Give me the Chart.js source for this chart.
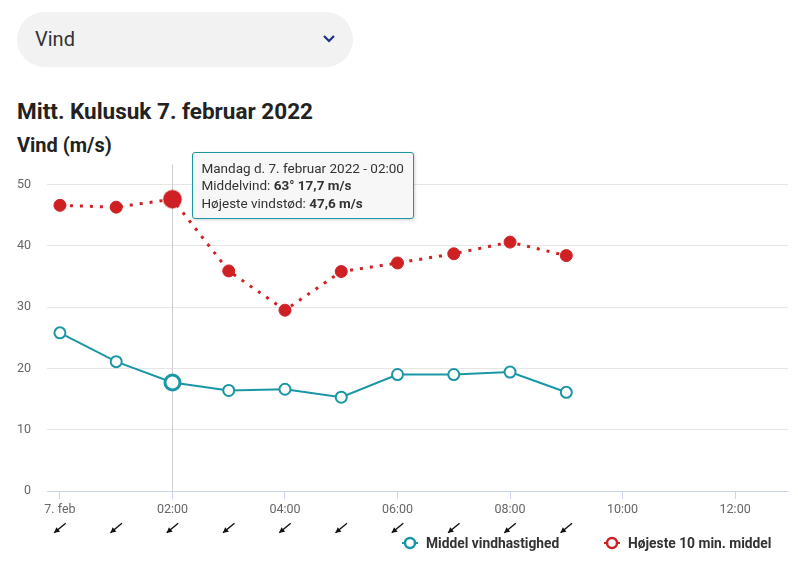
<!DOCTYPE html>
<html>
<head>
<meta charset="utf-8">
<script src="https://cdn.jsdelivr.net/npm/chart.js@4"></script>
<style>
  body { margin: 0; width: 798px; height: 578px; overflow: hidden; background: #fff; font-family: Roboto, sans-serif; color: #222; position: relative; }
  #select { position: absolute; left: 17px; top: 12px; width: 336px; height: 55px; border-radius: 28px; background: #f2f2f2; }
  #select span { position: absolute; left: 18px; top: 15px; font-size: 20px; color: #333; }
  #select svg { position: absolute; left: 305px; top: 22px; }
  h1 { position: absolute; left: 17px; top: 98px; margin: 0; font-size: 22.5px; font-weight: 700; }
  h2 { position: absolute; left: 17px; top: 133px; margin: 0; font-size: 20px; font-weight: 700; }
  #wrap { position: absolute; left: 0; top: 161px; width: 798px; height: 379px; }
  #tip { position: absolute; background: rgba(247,247,247,0.96); border: 1px solid #1a97a6; border-radius: 3px; padding: 7px 9px 6px 8px; font-size: 13.5px; line-height: 17.5px; color: #333; box-shadow: 1px 1px 3px rgba(0,0,0,0.18); white-space: nowrap; pointer-events: none; }
  #legend { position: absolute; top: 535px; left: 0; width: 798px; height: 20px; font-size: 13.8px; font-weight: 700; color: #333; }
  .item { position: absolute; top: 0; display: flex; align-items: center; }
  .item svg { margin-right: 8px; }
</style>
</head>
<body>
<div id="select"><span>Vind</span><svg width="14" height="10" viewBox="0 0 14 10"><path d="M2 2 L7 7 L12 2" fill="none" stroke="#1c2f87" stroke-width="2.2"/></svg></div>
<h1>Mitt. Kulusuk 7. februar 2022</h1>
<h2>Vind (m/s)</h2>
<div id="wrap"><canvas id="chart"></canvas></div>
<div id="tip" style="display:none"></div>
<div id="legend"></div>
<script>
const hours = [0, 1, 2, 3, 4, 5, 6, 7, 8, 9];
const middelVind = [25.8, 21.1, 17.7, 16.4, 16.6, 15.3, 19.0, 19.0, 19.4, 16.1];
const hoejesteVind = [46.6, 46.3, 47.6, 35.9, 29.5, 35.8, 37.2, 38.7, 40.6, 38.4];
const vindRetning = [63, 63, 63, 63, 63, 63, 63, 63, 63, 63];
const xTicks = [0, 2, 4, 6, 8, 10, 12];
const seriesNames = ["Middel vindhastighed", "Højeste 10 min. middel"];
const activeIndex = 2;

const teal = "#1a97a6";
const red = "#cf2124";
const wrapTop = 161;

function tickLabel(v) {
    if (v === 0) return "7. feb";
    return String(v).padStart(2, "0") + ":00";
}

function fmt(n) {
    return n.toFixed(1).replace(".", ",");
}

// crosshair + wind arrows under the axis
const extras = {
    id: "extras",
    beforeDatasetsDraw(chart) {
        const ctx = chart.ctx;
        const x = chart.scales.x.getPixelForValue(hours[activeIndex]);
        ctx.save();
        ctx.strokeStyle = "#cccccc";
        ctx.lineWidth = 1;
        ctx.beginPath();
        ctx.moveTo(Math.round(x) + 0.5, chart.chartArea.top - 20);
        ctx.lineTo(Math.round(x) + 0.5, chart.chartArea.bottom);
        ctx.stroke();
        ctx.restore();
    },
    afterDraw(chart) {
        const ctx = chart.ctx;
        const y = chart.chartArea.bottom + 37;
        ctx.save();
        ctx.strokeStyle = "#111";
        ctx.fillStyle = "#111";
        ctx.lineWidth = 1.4;
        hours.forEach((h, i) => {
            const x = chart.scales.x.getPixelForValue(h);
            // arrow points where the wind blows to
            const b = (vindRetning[i] + 167) * Math.PI / 180;
            const dx = Math.sin(b), dy = -Math.cos(b);
            const len = 15;
            const tx = x - dx * len / 2, ty = y - dy * len / 2;
            const hx = x + dx * len / 2, hy = y + dy * len / 2;
            ctx.beginPath();
            ctx.moveTo(tx, ty);
            ctx.lineTo(hx, hy);
            ctx.stroke();
            const a = Math.atan2(dy, dx);
            ctx.beginPath();
            ctx.moveTo(hx, hy);
            ctx.lineTo(hx - 6 * Math.cos(a - 0.5), hy - 6 * Math.sin(a - 0.5));
            ctx.lineTo(hx - 6 * Math.cos(a + 0.5), hy - 6 * Math.sin(a + 0.5));
            ctx.closePath();
            ctx.fill();
        });
        ctx.restore();
    }
};

function externalTooltip(context) {
    const tip = document.getElementById("tip");
    const chart = context.chart;
    const model = context.tooltip;
    if (model.opacity === 0) { tip.style.display = "none"; return; }
    const i = model.dataPoints[0].dataIndex;
    tip.innerHTML =
        "Mandag d. 7. februar 2022 - " + tickLabel(hours[i]).replace("7. feb", "00:00") + "<br>" +
        "Middelvind: <b>" + vindRetning[i] + "° " + fmt(middelVind[i]) + " m/s</b><br>" +
        "Højeste vindstød: <b>" + fmt(hoejesteVind[i]) + " m/s</b>";
    const x = chart.scales.x.getPixelForValue(hours[i]);
    tip.style.left = (x + 20) + "px";
    tip.style.top = (wrapTop + chart.chartArea.top - 33) + "px";
    tip.style.display = "block";
}

const chart = new Chart(document.getElementById("chart"), {
    type: "line",
    data: {
        datasets: [
            {
                label: seriesNames[0],
                data: hours.map((h, i) => ({ x: h, y: middelVind[i] })),
                borderColor: teal,
                borderWidth: 2,
                pointRadius: 5.5,
                pointBorderWidth: 2,
                pointBackgroundColor: "#fff",
                pointBorderColor: teal,
                pointHoverRadius: 7.5,
                pointHoverBorderWidth: 3,
                pointHoverBackgroundColor: "#fff",
                pointHoverBorderColor: teal,
                tension: 0
            },
            {
                label: seriesNames[1],
                data: hours.map((h, i) => ({ x: h, y: hoejesteVind[i] })),
                borderColor: red,
                borderWidth: 3,
                borderDash: [3, 7],
                pointRadius: 6,
                pointBorderWidth: 1,
                pointBackgroundColor: red,
                pointBorderColor: red,
                pointHoverRadius: 9,
                pointHoverBorderWidth: 2,
                pointHoverBackgroundColor: red,
                pointHoverBorderColor: "rgba(207,33,36,0.35)",
                tension: 0
            }
        ]
    },
    options: {
        responsive: true,
        maintainAspectRatio: false,
        animation: false,
        events: [],
        layout: { padding: { top: 4, right: 0, left: 0, bottom: 0 } },
        interaction: { mode: "index", intersect: false },
        plugins: {
            legend: { display: false },
            tooltip: { enabled: false, external: externalTooltip }
        },
        scales: {
            x: {
                type: "linear",
                min: -0.23,
                max: 12.94,
                afterFit(scale) { scale.height = 49; },
                afterBuildTicks(scale) { scale.ticks = xTicks.map(v => ({ value: v })); },
                ticks: {
                    callback: tickLabel,
                    color: "#666",
                    font: { family: "Roboto", size: 12.5 },
                    padding: 3,
                    maxRotation: 0
                },
                grid: { drawOnChartArea: false, drawTicks: true, tickLength: 8, color: "#ccd6eb" },
                border: { color: "#ccd6eb", width: 1 }
            },
            y: {
                min: 0,
                max: 50,
                afterFit(scale) { scale.width = 47; },
                ticks: {
                    stepSize: 10,
                    color: "#666",
                    font: { family: "Roboto", size: 12.5 },
                    padding: 16
                },
                grid: { color: "#e6e6e6", drawTicks: false },
                border: { display: false }
            }
        }
    },
    plugins: [extras]
});

const act = [{ datasetIndex: 0, index: activeIndex }, { datasetIndex: 1, index: activeIndex }];
chart.setActiveElements(act);
chart.tooltip.setActiveElements(act, { x: 0, y: 0 });
chart.update();

// legend
const legend = document.getElementById("legend");
[[402, teal, seriesNames[0]], [604, red, seriesNames[1]]].forEach(([left, c, name]) => {
    const d = document.createElement("div");
    d.className = "item";
    d.style.left = left + "px";
    d.innerHTML = '<svg width="16" height="16"><line x1="0" y1="8" x2="16" y2="8" stroke="' + c + '" stroke-width="2"/>' +
        '<circle cx="8" cy="8" r="5" fill="#fff" stroke="' + c + '" stroke-width="2.5"/></svg>' + name;
    legend.appendChild(d);
});
</script>
</body>
</html>
